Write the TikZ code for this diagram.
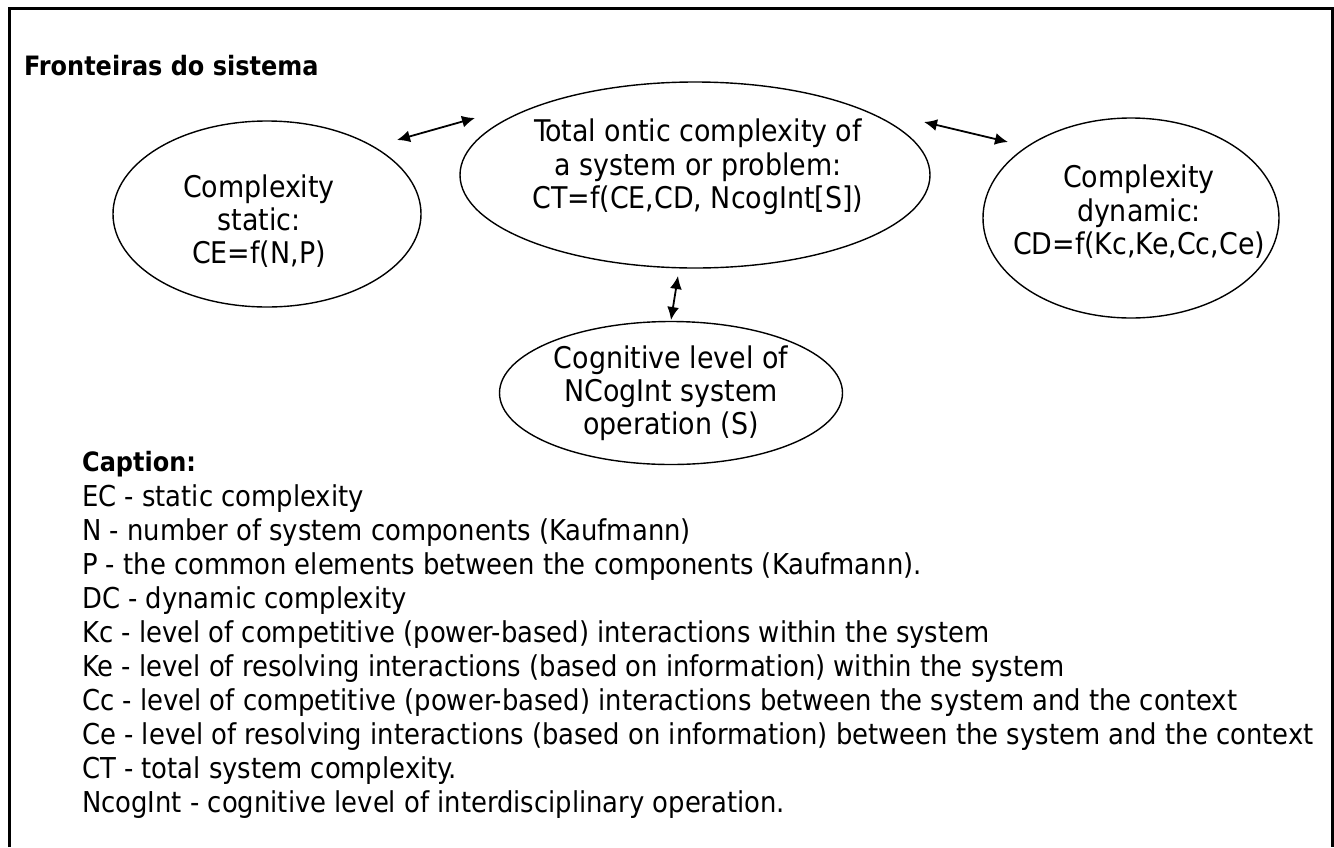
\documentclass[tikz,border=0pt]{standalone}
\usepackage{fontspec}
\setmainfont{DejaVu Sans Condensed}
\usetikzlibrary{shapes.geometric,arrows.meta}
\newlength\fitlen
\newcommand\fitsize[3]{\settowidth\fitlen{\normalfont\fontsize{10pt}{12pt}\selectfont #3}\ifdim\fitlen<1pt\fitlen=100pt\fi\pgfmathsetmacro#1{1/\fitlen*#2*10}}
\begin{document}
\fitsize{\csz}{1231}{Ce - level of resolving interactions (based on information) between the system and the context}%
\fitsize{\esz}{328}{Total ontic complexity of}%
\fitsize{\bsz}{294}{\bfseries Fronteiras do sistema}%
\begin{tikzpicture}[x=1pt,y=-1pt,
  ell/.style={draw, ellipse, line width=1.4pt, inner sep=0pt},
  etext/.style={anchor=base, inner sep=0pt, font=\fontsize{\esz pt}{34pt}\selectfont},
  ctext/.style={anchor=base west, inner sep=0pt, font=\fontsize{\csz pt}{34pt}\selectfont},
  btext/.style={anchor=base west, inner sep=0pt, font=\fontsize{\bsz pt}{34pt}\selectfont\bfseries},
  dbl/.style={line width=1.8pt, {Latex[length=13pt,width=12pt]}-{Latex[length=13pt,width=12pt]}}]
\useasboundingbox (0,0) rectangle (1334,847);
\fill[white] (0,0) rectangle (1334,847);
% frame
\draw[line width=3pt] (9.5,847) -- (9.5,8) -- (1332,8) -- (1332,847);
% title
\node[btext] (title) at (24,75) {Fronteiras do sistema};
% ellipses
\node[ell, minimum width=308pt, minimum height=186pt] (static) at (267,214) {};
\node[ell, minimum width=470pt, minimum height=186pt] (total) at (695,175) {};
\node[ell, minimum width=296pt, minimum height=200pt] (dynamic) at (1131,218) {};
\node[ell, minimum width=343pt, minimum height=143pt] (cog) at (671,393) {};
% ellipse texts
\node[etext] (s1) at (259,197) {Complexity};
\node[etext] (s2) at (259,230) {static:};
\node[etext] (s3) at (259,263) {CE=f(N,P)};
\node[etext] (t1) at (698,141) {Total ontic complexity of};
\node[etext] (t2) at (698,175) {a system or problem:};
\node[etext] (t3) at (698,208) {CT=f(CE,CD, NcogInt[S])};
\node[etext] (d1) at (1139,187) {Complexity};
\node[etext] (d2) at (1139,221) {dynamic:};
\node[etext] (d3) at (1139,254) {CD=f(Kc,Ke,Cc,Ce)};
\node[etext] (c1) at (671,368) {Cognitive level of};
\node[etext] (c2) at (671,401) {NCogInt system};
\node[etext] (c3) at (671,434) {operation (S)};
% arrows
\coordinate (a1s) at (397,140);
\coordinate (a1e) at (475,118);
\coordinate (a2s) at (924,122);
\coordinate (a2e) at (1008,142);
\coordinate (a3s) at (678,276);
\coordinate (a3e) at (671,320);
\draw[dbl] (a1s) -- (a1e);
\draw[dbl] (a2s) -- (a2e);
\draw[dbl] (a3s) -- (a3e);
% caption
\node[btext] (caption) at (82,471) {Caption:};
\foreach \t [count=\i] in {
  {EC - static complexity},
  {N - number of system components (Kaufmann)},
  {P - the common elements between the components (Kaufmann).},
  {DC - dynamic complexity},
  {Kc - level of competitive (power-based) interactions within the system},
  {Ke - level of resolving interactions (based on information) within the system},
  {Cc - level of competitive (power-based) interactions between the system and the context},
  {Ce - level of resolving interactions (based on information) between the system and the context},
  {CT - total system complexity.},
  {NcogInt - cognitive level of interdisciplinary operation.}}
  \node[ctext] (cap\i) at (82,{472+34*\i}) {\t};
\end{tikzpicture}
\end{document}
